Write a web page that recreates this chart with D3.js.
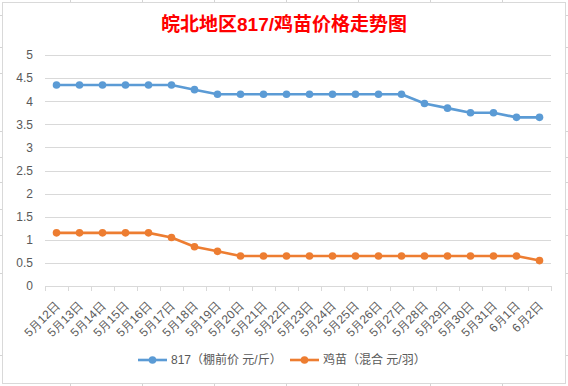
<!DOCTYPE html>
<html>
<head>
<meta charset="utf-8">
<script src="https://cdn.jsdelivr.net/npm/d3@7"></script>
<style>
  body { margin: 0; background: #fff; }
  svg { display: block; font-family: "Liberation Sans", "Noto Sans CJK SC", sans-serif; }
</style>
</head>
<body>
<div id="chart"></div>
<script>
// --- Data ---
const dates = ["5月12日", "5月13日", "5月14日", "5月15日", "5月16日", "5月17日", "5月18日",
  "5月19日", "5月20日", "5月21日", "5月22日", "5月23日", "5月24日", "5月25日", "5月26日",
  "5月27日", "5月28日", "5月29日", "5月30日", "5月31日", "6月1日", "6月2日"];
const price817 = [4.35, 4.35, 4.35, 4.35, 4.35, 4.35, 4.25, 4.15, 4.15, 4.15, 4.15, 4.15,
  4.15, 4.15, 4.15, 4.15, 3.95, 3.85, 3.75, 3.75, 3.65, 3.65];
const priceChick = [1.15, 1.15, 1.15, 1.15, 1.15, 1.05, 0.85, 0.75, 0.65, 0.65, 0.65, 0.65,
  0.65, 0.65, 0.65, 0.65, 0.65, 0.65, 0.65, 0.65, 0.65, 0.55];
const yTicks = [0, 0.5, 1, 1.5, 2, 2.5, 3, 3.5, 4, 4.5, 5];
const seriesNames = ["817（棚前价 元/斤）", "鸡苗（混合 元/羽）"];
const seriesColors = ["#5B9BD5", "#ED7D31"];

const W = 568, H = 386;
const plot = { left: 45, right: 551, top: 55, bottom: 286 };

const svg = d3.select("#chart").append("svg")
  .attr("width", W).attr("height", H);

// spreadsheet cell stubs behind the chart object
const stubs = svg.append("g").attr("stroke", "#d4d4d4").attr("stroke-width", 1);
[70, 142, 214, 286, 358, 430, 502].forEach(x => {
  stubs.append("line").attr("x1", x + 0.5).attr("x2", x + 0.5).attr("y1", 0).attr("y2", 2);
  stubs.append("line").attr("x1", x + 0.5).attr("x2", x + 0.5).attr("y1", 384).attr("y2", 386);
});
[15, 47, 73, 131, 157, 182, 209, 235, 273, 355].forEach(y => {
  stubs.append("line").attr("x1", 0).attr("x2", 2).attr("y1", y + 0.5).attr("y2", y + 0.5);
  stubs.append("line").attr("x1", 566).attr("x2", 568).attr("y1", y + 0.5).attr("y2", y + 0.5);
});

// chart frame
svg.append("rect")
  .attr("x", 2.5).attr("y", 2.5).attr("width", 563).attr("height", 381)
  .attr("fill", "#fff").attr("stroke", "#d9d9d9");

// title
svg.append("text")
  .attr("x", 284).attr("y", 31)
  .attr("text-anchor", "middle")
  .attr("fill", "#ff0000")
  .attr("font-size", 19).attr("font-weight", "bold")
  .text("皖北地区817/鸡苗价格走势图");

// --- Scales ---
const x = d3.scaleBand().domain(dates).range([plot.left, plot.right]);
const y = d3.scaleLinear().domain([0, 5]).range([plot.bottom, plot.top]);

// gridlines
svg.append("g")
  .selectAll("line")
  .data(yTicks.filter(d => d > 0))
  .join("line")
  .attr("x1", plot.left).attr("x2", plot.right)
  .attr("y1", d => Math.round(y(d)) + 0.5).attr("y2", d => Math.round(y(d)) + 0.5)
  .attr("stroke", "#d9d9d9");

// y axis labels
const yAxis = svg.append("g")
  .attr("transform", `translate(${plot.left - 9},0)`)
  .call(d3.axisLeft(y).tickValues(yTicks).tickSize(0).tickFormat(d => String(d)));
yAxis.select(".domain").remove();
yAxis.selectAll("text")
  .attr("fill", "#595959").attr("font-size", 12)
  .attr("font-family", "Liberation Sans, sans-serif");

// x axis
const xAxis = svg.append("g")
  .attr("transform", `translate(0,${Math.round(plot.bottom) + 0.5})`)
  .call(d3.axisBottom(x).tickSize(0));
xAxis.select(".domain").attr("stroke", "#d9d9d9").attr("d", `M${plot.left},0H${plot.right}`);
xAxis.selectAll(".tick line").remove();
// boundary ticks between categories
svg.append("g")
  .selectAll("line")
  .data(d3.range(dates.length + 1))
  .join("line")
  .attr("x1", i => Math.round(plot.left + i * x.step()) + 0.5)
  .attr("x2", i => Math.round(plot.left + i * x.step()) + 0.5)
  .attr("y1", plot.bottom).attr("y2", plot.bottom + 5)
  .attr("stroke", "#d9d9d9");
xAxis.selectAll("text")
  .attr("fill", "#595959").attr("font-size", 12)
  .attr("text-anchor", "end")
  .attr("x", 0).attr("y", 0).attr("dy", "0.35em")
  .attr("transform", "translate(1,17) rotate(-45)");

// --- Series ---
const line = d3.line()
  .x((d, i) => x(dates[i]) + x.bandwidth() / 2)
  .y(d => y(d));

[price817, priceChick].forEach((vals, k) => {
  const g = svg.append("g");
  g.append("path")
    .datum(vals)
    .attr("d", line)
    .attr("fill", "none")
    .attr("stroke", seriesColors[k])
    .attr("stroke-width", 2.6)
    .attr("stroke-linejoin", "round");
  g.selectAll("circle")
    .data(vals)
    .join("circle")
    .attr("cx", (d, i) => x(dates[i]) + x.bandwidth() / 2)
    .attr("cy", d => y(d))
    .attr("r", 3.8)
    .attr("fill", seriesColors[k]);
});

// --- Legend ---
const legendX = [138, 290];
const legendY = 360;
seriesNames.forEach((name, k) => {
  const g = svg.append("g").attr("transform", `translate(${legendX[k]},${legendY})`);
  g.append("line").attr("x1", 0).attr("x2", 29).attr("y1", 0).attr("y2", 0)
    .attr("stroke", seriesColors[k]).attr("stroke-width", 2.6);
  g.append("circle").attr("cx", 14.5).attr("cy", 0).attr("r", 3.8).attr("fill", seriesColors[k]);
  g.append("text").attr("x", 33).attr("y", 0).attr("dy", "0.35em")
    .attr("fill", "#595959").attr("font-size", 12)
    .text(name);
});
</script>
</body>
</html>
